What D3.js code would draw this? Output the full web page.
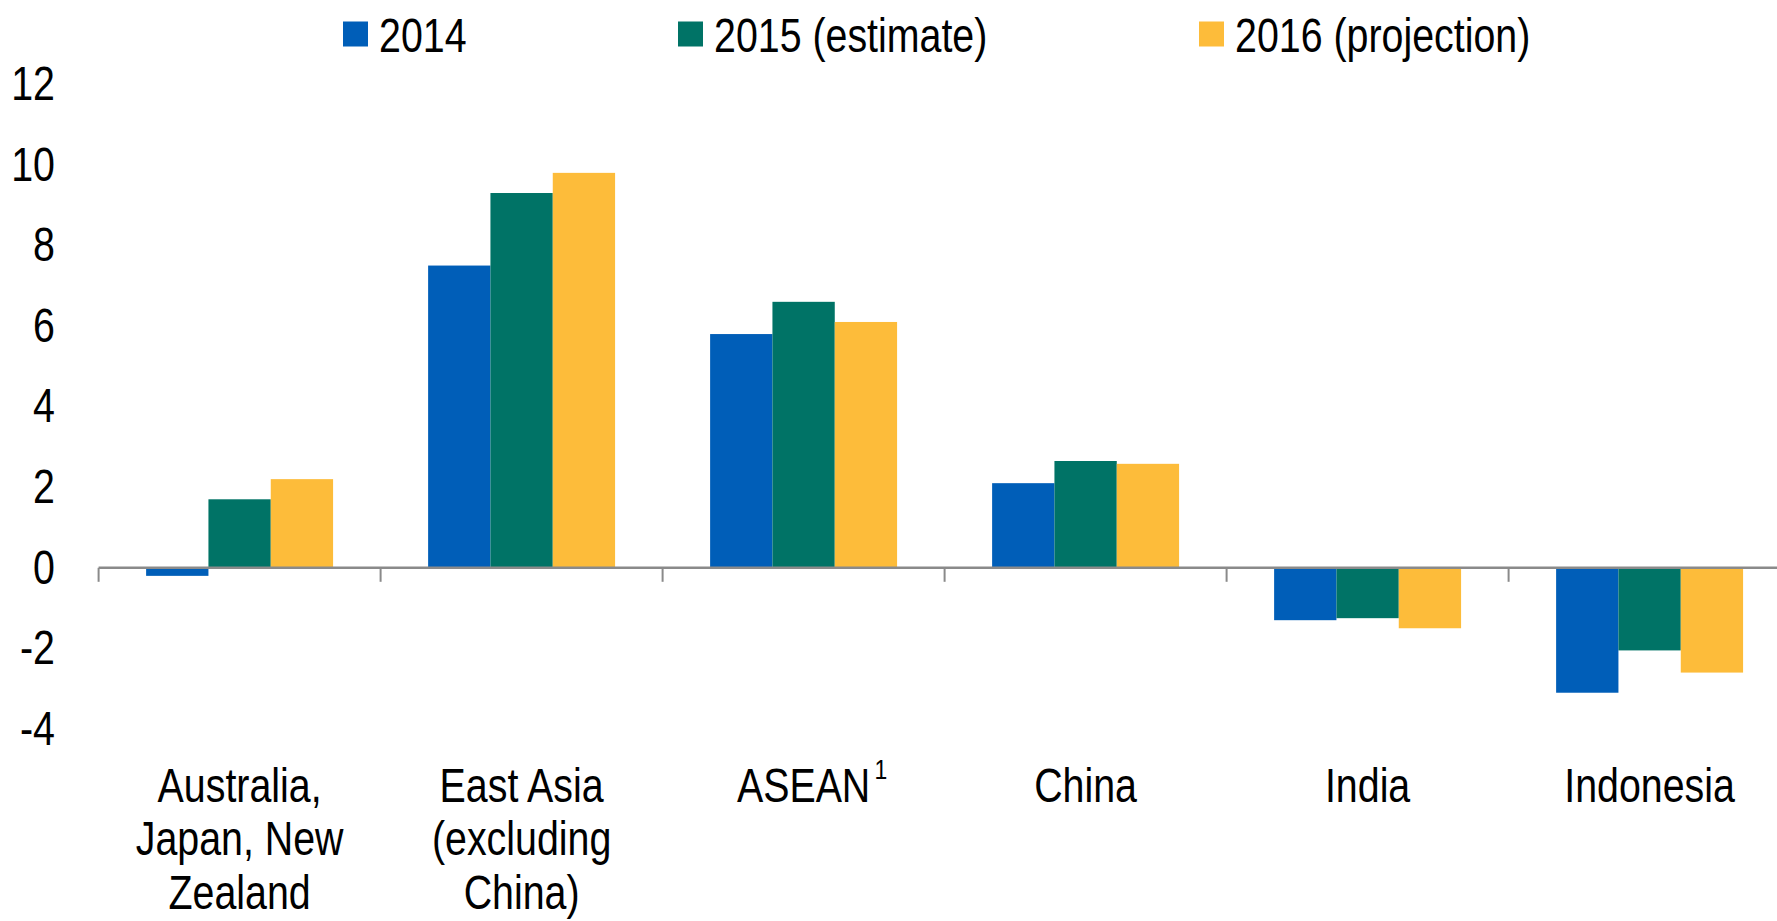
<!DOCTYPE html>
<html>
<head>
<meta charset="utf-8">
<script src="https://cdn.jsdelivr.net/npm/d3@7"></script>
<style>
  body { margin: 0; background: #fff; }
  svg text { font-family: "Liberation Sans Narrow", "Arial Narrow", "Liberation Sans", Arial, sans-serif; fill: #000; }
</style>
</head>
<body>
<svg id="chart"></svg>
<script>
const categories = [
  "Australia,\nJapan, New\nZealand",
  "East Asia\n(excluding\nChina)",
  "ASEAN",
  "China",
  "India",
  "Indonesia"
];
const footnotes = ["", "", "1", "", "", ""];
const seriesNames = ["2014", "2015 (estimate)", "2016 (projection)"];
const values2014 = [-0.2, 7.5, 5.8, 2.1, -1.3, -3.1];
const values2015 = [1.7, 9.3, 6.6, 2.65, -1.25, -2.05];
const values2016 = [2.2, 9.8, 6.1, 2.58, -1.5, -2.6];
const yTicks = [-4, -2, 0, 2, 4, 6, 8, 10, 12];
const colors = ["#005EB8", "#007366", "#FDBC3A"];

const width = 1777, height = 921;
const fontSize = 48;
const squeeze = 0.82; // no narrow font installed, so squash the regular one
const svg = d3.select("#chart").attr("width", width).attr("height", height);

const series = [values2014, values2015, values2016];
const rows = categories.map((c, i) => ({ cat: c, vals: series.map(s => s[i]) }));

// plot runs off the right edge like the original
const x0 = d3.scaleBand().domain(categories).range([98.6, 1790.6])
  .paddingInner(0.337).paddingOuter(0.1685);
const x1 = d3.scaleBand().domain(seriesNames).range([0, x0.bandwidth()]);
const y = d3.scaleLinear().domain([-4, 12]).range([729, 84.2]);

// bars
const groups = svg.append("g").selectAll("g")
  .data(rows).join("g")
  .attr("transform", d => "translate(" + x0(d.cat) + ",0)");

groups.selectAll("rect")
  .data(d => d.vals.map((v, k) => ({ v, k })))
  .join("rect")
  .attr("x", d => x1(seriesNames[d.k]))
  .attr("width", x1.bandwidth())
  .attr("y", d => y(Math.max(0, d.v)))
  .attr("height", d => Math.abs(y(d.v) - y(0)))
  .attr("fill", d => colors[d.k]);

// y axis
const yAxis = svg.append("g")
  .attr("transform", "translate(55,0)")
  .call(d3.axisLeft(y).tickValues(yTicks).tickSize(0).tickPadding(0)
    .tickFormat(d => String(d)));
yAxis.select(".domain").remove();
yAxis.selectAll("text")
  .attr("x", 0)
  .attr("transform", "scale(" + squeeze + ",1)")
  .style("font-size", fontSize + "px");

// zero line with category boundary ticks
const step = x0.step();
const xStart = x0.range()[0];
svg.append("line")
  .attr("x1", xStart).attr("x2", x0.range()[1])
  .attr("y1", y(0)).attr("y2", y(0))
  .attr("stroke", "#8a8a8a").attr("stroke-width", 2.5);
svg.append("g").selectAll("line")
  .data(d3.range(categories.length + 1))
  .join("line")
  .attr("x1", i => xStart + i * step).attr("x2", i => xStart + i * step)
  .attr("y1", y(0)).attr("y2", y(0) + 14)
  .attr("stroke", "#8a8a8a").attr("stroke-width", 2);

// category labels
const labelG = svg.append("g").selectAll("g")
  .data(rows).join("g")
  .attr("transform", d => "translate(" + (x0(d.cat) + x0.bandwidth() / 2) + ",802) scale(" + squeeze + ",1)");
const labels = labelG.append("text")
  .attr("text-anchor", "middle")
  .attr("font-size", fontSize);
labels.selectAll("tspan")
  .data(d => d.cat.split("\n"))
  .join("tspan")
  .attr("x", 0)
  .attr("dy", (d, i) => i === 0 ? 0 : 53.5)
  .text(d => d);

labels.each(function (d, i) {
  if (!footnotes[i]) return;
  const w = this.getComputedTextLength();
  d3.select(this.parentNode).append("text")
    .attr("x", w / 2 + 5)
    .attr("y", -23)
    .attr("font-size", 28)
    .text(footnotes[i]);
});

// legend
const legendX = [343, 678, 1199];
const legend = svg.append("g").selectAll("g")
  .data(seriesNames).join("g")
  .attr("transform", (d, i) => "translate(" + legendX[i] + ",0)");
legend.append("rect")
  .attr("x", 0).attr("y", 21.5).attr("width", 25).attr("height", 25)
  .attr("fill", (d, i) => colors[i]);
legend.append("text")
  .attr("transform", "translate(36,52) scale(" + squeeze + ",1)")
  .attr("font-size", fontSize)
  .text(d => d);
</script>
</body>
</html>
